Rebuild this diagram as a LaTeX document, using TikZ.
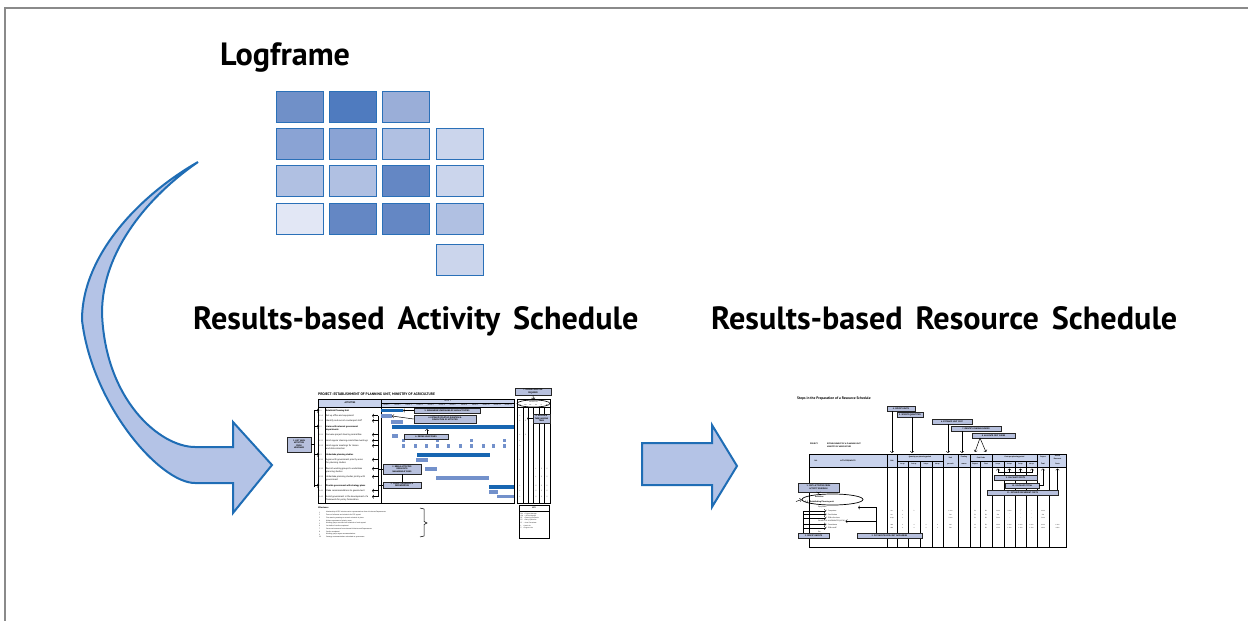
\documentclass[tikz,border=0pt]{standalone}
\usepackage{fontspec}
\setmainfont{PT Sans}
\usetikzlibrary{positioning, calc, shapes.geometric}

% === Colours ===
\definecolor{lfEdge}{HTML}{2A70B8}
\definecolor{lfA}{HTML}{7090C8}
\definecolor{lfB}{HTML}{4F7BBF}
\definecolor{lfC}{HTML}{9AAED8}
\definecolor{lfD}{HTML}{8AA3D4}
\definecolor{lfE}{HTML}{B0C0E2}
\definecolor{lfF}{HTML}{CBD5EC}
\definecolor{lfG}{HTML}{6487C4}
\definecolor{lfH}{HTML}{E2E7F5}
\definecolor{arrowEdge}{HTML}{1F6DB5}
\definecolor{arrowFill}{HTML}{B4C3E6}
\definecolor{hdrFill}{HTML}{C9D3EC}
\definecolor{stepFill}{HTML}{B7C0DD}
\definecolor{barDark}{HTML}{1766B2}
\definecolor{barMid}{HTML}{7391CB}
\definecolor{frameGray}{HTML}{8A8A8A}

\tikzset{
  heading/.style={font=\fontsize{32.2}{36}\selectfont\bfseries, inner sep=0pt, anchor=base west},
  lfcell/.style={draw=lfEdge, line width=1pt, minimum width=47pt, minimum height=31pt, anchor=north west, inner sep=0pt},
  bigarrow/.style={fill=arrowFill, draw=arrowEdge, line width=2pt, line join=miter},
  wee/.style={font=\fontsize{2.3}{2.8}\selectfont, inner sep=0pt},
  weebold/.style={inner sep=0pt, font=\fontsize{3.6}{4}\selectfont\bfseries},
  stepbox/.style={draw=black!85, fill=stepFill, line width=0.8pt, inner sep=0pt, align=center, font=\fontsize{2.1}{2.5}\selectfont\bfseries},
  rule/.style={line width=0.9pt},
  hair/.style={line width=0.35pt},
  link/.style={line width=0.5pt},
}

\begin{document}
\begin{tikzpicture}[x=1pt, y=-1pt]

    \useasboundingbox (0,0) rectangle (1248,621);

    % === Frame ===
    \draw[frameGray, line width=1.3pt] (5,621) -- (5,8) -- (1248,8);

    % === Headings ===
    \node[heading] (logframe) at (220,65) {Logframe};
    \node[heading] (actTitle) at (193,329)
    {Results-based\hspace{0.4em}Activity\hspace{0.4em}Schedule};
    \node[heading] (resTitle) at (711,329)
    {Results-based\hspace{0.4em}Resource\hspace{0.4em}Schedule};

    % === Logframe cells ===
    \foreach \c/\r/\shade in {0/0/lfA, 1/0/lfB, 2/0/lfC,
        0/1/lfD, 1/1/lfD, 2/1/lfE, 3/1/lfF,
        0/2/lfE, 1/2/lfE, 2/2/lfG, 3/2/lfF,
        0/3/lfH, 1/3/lfG, 2/3/lfG, 3/3/lfE, 3/4/lfF}
    \node[lfcell, fill=\shade] (lf-\c-\r) at ({275.5+53.4*\c}, {90.5+37.4*\r+(\r>3)*3.5}) {};

    % === Curved arrow (logframe -> activity schedule) ===
    \draw[bigarrow] (198,162) .. controls (140,195) and (82,255) .. (82,320)
    .. controls (92,405) and (160,483) .. (195,483) -- (233,483) -- (233,513)
    -- (272,465) -- (233,422) -- (233,447) -- (195,447)
    .. controls (160,447) and (105,400) .. (102,313)
    .. controls (102,250) and (150,195) .. (198,162) -- cycle;

    % === Straight arrow (activity -> resource schedule) ===
    \draw[bigarrow] (642,443) -- (712,443) -- (712,425) -- (737,466)
    -- (712,507) -- (712,485) -- (642,485) -- cycle;

    % ======================================================
    % === Activity schedule (thumbnail) ===
    % ======================================================
    \node[weebold, anchor=west] (asTitle) at (318,394)
    {PROJECT: ESTABLISHMENT OF PLANNING UNIT, MINISTRY OF AGRICULTURE};
    \fill[hdrFill] (318,399) rectangle (514,407);
    \draw[rule] (318,399) rectangle (514,503);
    \draw[rule] (318,407) -- (514,407);
    \draw[rule] (381,399) -- (381,503);
    \draw[hair] (325,407) -- (325,503);
    \draw[hair] (381,403) -- (514,403);
    \node[wee, font=\fontsize{2.3}{2.8}\selectfont\bfseries] (asAct) at (350,403) {ACTIVITIES};
    \node[wee] (asYear) at (447.5,401) {YEAR 1};
    \foreach \m in {1,...,12}
    \node[wee, font=\fontsize{1.7}{2}\selectfont] (asM\m) at ({381+(\m-0.5)*11.08},405) {Month \m};

    % activities
    \foreach \y/\ref/\txt [count=\k] in {
        411/1.1/{\bfseries Establish Planning Unit},
        416/1.1.1/{Set up office and equipment},
        421/1.1.2/{Identify and recruit counterpart staff},
        427/1.2/{\bfseries Liaise with relevant government\\\bfseries departments},
        435/1.2.1/{Convene project steering committee},
        441/1.2.2/{Hold regular steering committee meetings},
        446/1.2.3/{Hold regular meetings for liaison\\and data collection},
        455/1.3/{\bfseries Undertake planning studies},
        460/1.3.1/{Agree with government priority areas\\for planning studies},
        469/1.3.2/{Recruit working groups to undertake\\planning studies},
        477/1.3.3/{Undertake planning studies jointly with\\government},
        486/1.4/{\bfseries Provide government with strategy plans},
        491/1.4.1/{Make recommendations to government},
        497/1.4.2/{Assist government in the development of a\\framework for policy formulation}}
    {
        \node[wee, font=\fontsize{1.8}{2.2}\selectfont, anchor=north west] (asRef\k) at (319,\y-1.2) {\ref};
        \node[wee, anchor=north west, align=left] (asRow\k) at (326,\y-1.4) {\txt};
    }

    % gantt bars
    \foreach \xa/\ya/\xb/\yb/\shade [count=\k] in {
        381/409/403/412/barDark, 381/414/392/418/barMid, 391/420/403/424/barMid,
        392/425/514/429/barDark, 392/434/398/438/barMid, 417/453/490/457/barDark,
        416/458/428/462/barMid, 425/467/437/471/barMid, 436/476/489/480/barMid,
        489/485/514/489/barDark, 489/490/498/494/barMid, 497/495/514/498/barMid}
    {
        \fill[\shade] (\xa,\ya) rectangle (\xb,\yb);
        \coordinate (asBar\k) at (\xb,{(\ya+\yb)/2});
    }
    \foreach \x in {403,437,471,504}
    \fill[barMid] (\x-1.5,439) rectangle (\x+1.5,442);
    \foreach \x in {403,415,426,437,448,460,471,483,493,504}
    \fill[barMid] (\x-1.5,444) rectangle (\x+1.5,448);

    % expertise panel
    \draw[rule] (517,399) rectangle (550,503);
    \draw[rule] (517,407) -- (550,407);
    \foreach \x in {523,528,533,539,544}
    \draw[rule] (\x,407) -- (\x,503);
    \node[ellipse, draw, line width=0.6pt, minimum width=33pt, minimum height=7pt, inner sep=0pt] (asExp) at (533.5,403.5) {};
    \node[wee, font=\fontsize{1.8}{2}\selectfont] (asExpTxt) at (533.5,402) {EXPERTISE};
    \foreach \x/\lbl in {520/PM, 525.5/OM, 530.5/PE, 536/PS, 541.5/LC, 547/WG}
    \node[wee, font=\fontsize{1.4}{1.6}\selectfont] (asCol\lbl) at (\x,405.2) {\lbl};
    \foreach \x/\y/\mk in {520/416/L, 520/421/L, 525.5/421/S, 520/435/L, 525.5/435/S,
        520/441/L, 520/446/L, 520/460/L, 536/469/L, 541.5/469/S, 547/469/S,
        536/477/L, 541.5/477/S, 547/477/S, 520/486/L, 536/486/S, 541.5/486/S,
        547/486/S, 520/491/L, 536/491/S, 541.5/491/S, 547/491/S, 520/497/L,
        536/497/S, 541.5/497/S, 547/497/S}
    \node[wee, font=\fontsize{1.6}{1.8}\selectfont] at (\x,\y) {\mk};

    % key
    \draw[rule] (519,505) rectangle (549,538);
    \draw[hair] (519,511) -- (549,511);
    \node[wee, font=\fontsize{2}{2.4}\selectfont\bfseries] (asKey) at (534,508) {KEY};
    \node[wee, font=\fontsize{1.6}{2.2}\selectfont, anchor=north west, align=left] (asKeyTxt) at (520.5,513)
    {PM\quad = Project Manager\\OM\quad = Office Manager\\PE\quad = Planning Economist\\
        PS\quad = Policy Specialist\\LC\quad = Local Consultant\\[1.2pt]
        L\quad = Lead role\\S\quad = Support role};

    % milestones
    \node[wee, font=\fontsize{2.2}{2.6}\selectfont\bfseries, anchor=west] (asMiles) at (318,508) {Milestones};
    \foreach \txt [count=\k] in {
        {Membership of PSC includes senior representatives from all relevant Departments},
        {Terms of reference and schedule for PSC agreed},
        {First steering meeting to set work schedule in place},
        {Written agreement of priority areas},
        {Working groups recruited and schedule of work agreed},
        {1st drafts of studies completed},
        {Structured comment from relevant Ministries and Departments},
        {Studies completed},
        {Working groups agree recommendations},
        {Strategy recommendations submitted to government}}
    {
        \node[wee, font=\fontsize{1.7}{2}\selectfont, anchor=west] (asMsNum\k) at (319,{509.8+2.75*\k}) {\k};
        \node[wee, font=\fontsize{1.7}{2}\selectfont, anchor=west] (asMs\k) at (326,{509.8+2.75*\k}) {\txt};
    }
    \draw[link] (420,508) -- (424,509) -- (424,521.5) -- (427,523) -- (424,524.5) -- (424,536) -- (420,537);

    % step boxes
    \node[stepbox, minimum width=24pt, minimum height=15pt] (asStep1) at (299,444.5) {1. LIST MAIN\\ACTIVITIES\\FROM\\LOGFRAME};
    \node[stepbox, minimum width=38pt, minimum height=10pt] (asStep2) at (402,469) {2. BREAK ACTIVITIES\\DOWN INTO\\MANAGEABLE TASKS};
    \node[stepbox, minimum width=38pt, minimum height=6pt] (asStep3) at (402,485) {3. CLARIFY SEQUENCE \&\\DEPENDENCIES};
    \node[stepbox, minimum width=62pt, minimum height=8pt] (asStep4) at (445,419) {4. ESTIMATE START-UP, DURATION \&\\COMPLETION OF ACTIVITIES};
    \node[stepbox, minimum width=66pt, minimum height=5pt] (asStep5) at (447,410.5) {5. SUMMARISE SCHEDULING OF MAIN ACTIVITIES};
    \node[stepbox, minimum width=44pt, minimum height=5pt] (asStep6) at (426,436.5) {6. DEFINE MILESTONES};
    \node[stepbox, minimum width=36pt, minimum height=7pt] (asStep7) at (533,391.5) {7. DEFINE EXPERTISE\\REQUIRED};
    \node[stepbox, minimum width=17pt, minimum height=9pt] (asStep8) at (541.5,418.5) {8. ALLOCATE\\TASKS AMONG\\TEAM};

    % connectors
    \coordinate (asBrTop) at (314,411);
    \coordinate (asBrBot) at (314,487);
    \draw[link] (asBrTop) -- (asBrBot);
    \draw[link] (asStep1.east) -- (asStep1.east -| asBrTop);
    \foreach \k in {1,4,8,12}
    \draw[link, ->] (asBrTop |- asRef\k.west) -- (asRef\k.west);
    \coordinate (asSubTop) at (378,416);
    \coordinate (asSubBot) at (378,497);
    \draw[link] (asSubTop) -- (asSubBot);
    \foreach \k in {2,3,5,6,7,9,10,11,13,14}
    \draw[link, ->] (asSubTop |- asRef\k.west) -- ++(-6,0);
    \draw[link] (asStep2.west) -- (asStep2.west -| asSubTop);
    \draw[link] (asStep3.west) -- (asStep3.west -| asSubTop);
    \draw[link] (asStep2) -- (asStep3);
    \draw[link, ->] (asStep4.west) -- (asBar2);
    \draw[link, ->] (asStep5.west) -- (asBar1);
    \coordinate (asMile) at (427,429);
    \draw[link, ->] (asStep6.north -| asMile) -- (asMile);
    \draw[link, ->] (asStep7.south) -- (asExp.north);
    \coordinate (asAlloc) at (527,418.5);
    \draw[link, ->] (asStep8.west) -- (asAlloc);

    % ======================================================
    % === Resource schedule (thumbnail) ===
    % ======================================================
    \node[weebold, anchor=west] (rsTitle) at (797,399) {Steps in the Preparation of a Resource Schedule};
    \node[wee, font=\fontsize{2}{2.4}\selectfont\bfseries, anchor=west] (rsProj) at (810,444) {PROJECT:};
    \node[wee, font=\fontsize{2}{3.4}\selectfont\bfseries, anchor=north west, align=left] (rsProjTxt) at (827,442.5)
    {ESTABLISHMENT OF A PLANNING UNIT\\MINISTRY OF AGRICULTURE};

    \fill[hdrFill] (809,454) rectangle (1066,467);
    \draw[rule] (809,454) rectangle (1066,547);
    \draw[rule] (809,467) -- (1066,467);
    \foreach \x in {887,897,943,958,970,992,1037,1049}
    \draw[rule] (\x,454) -- (\x,547);
    \foreach \x in {908,920,932,980,1004,1015,1026}
    \draw[rule] (\x,461) -- (\x,547);
    \draw[hair] (897,461) -- (943,461);
    \draw[hair] (970,461) -- (992,461);
    \draw[hair] (992,461) -- (1037,461);

    % header labels
    \foreach \x/\y/\txt [count=\k] in {816/460.5/Ref., 848/460.5/ACTIVITIES\slash INPUTS, 892/460.5/Unit,
        920/457.5/Quantity per planning period, 950.5/457.5/Unit, 950.5/464/per unit,
        964/457.5/Funding, 964/464/source, 981/457.5/Cost Codes, 975/464/Project, 986/464/Cost,
        1014.5/457.5/Costs per planning period, 1043/457.5/Project, 1043/464/Total,
        1057.5/456/Annual, 1057.5/458.7/Recurrent, 1057.5/464/Costs}
    \node[wee, font=\fontsize{1.8}{2}\selectfont\bfseries] (rsHd\k) at (\x,\y) {\txt};
    \foreach \x/\q in {902.5/1st, 914/2nd, 926/3rd, 937.5/4th, 998/1st, 1009.5/2nd, 1020.5/3rd, 1031.5/4th}
    \node[wee, font=\fontsize{1.6}{2}\selectfont\bfseries] at (\x,464) {\q\ qtr};

    % body rows
    \node[ellipse, draw, line width=0.7pt, minimum width=61pt, minimum height=11pt, inner sep=0pt] (rsActs) at (832.5,499.5) {};
    \node[wee, font=\fontsize{2.1}{2.5}\selectfont\bfseries, anchor=west] (rsActTxt) at (815,496.5) {Activities};
    \node[wee, font=\fontsize{2.1}{2.5}\selectfont\bfseries, anchor=west] (rsActNum) at (805,501.5) {1.1\quad Establishing Planning unit};
    \node[wee, font=\fontsize{1.8}{2.2}\selectfont, anchor=west] (rsEquip) at (818,507.5) {Equipment};
    \node[wee, font=\fontsize{1.8}{2.2}\selectfont, anchor=west] (rsSal) at (818,521.3) {SALARIES \& ALLOWANCES (LOCAL)};
    \node[wee, font=\fontsize{1.8}{2.2}\selectfont, anchor=west] (rsEtc) at (818,532) {Etc.};
    \foreach \y/\item/\u/\qa/\qb/\qc/\qd/\cu/\ca/\cb/\ka/\kb/\kc/\kd/\tot/\rec [count=\k] in {
        511/1. Computers/No./2/2/{}/{}/1 000/5.1/EU/2 000/2 000/--/--/4 000/{},
        514.5/2. Fax Modem/No./1/{}/{}/{}/500/5.1/EU/500/--/--/--/500/{},
        518/3. Office furniture/Lump/1/{}/{}/{}/3 000/5.1/EU/3 000/--/--/--/3 000/{},
        524.5/1. Consultants/Mth/4/4/4/4/400/1.1/EU/1 600/1 600/1 600/1 600/6 400/6 400,
        528/2. Office staff/Mth/4/4/4/4/300/1.2/EU/1 200/1 200/1 200/1 200/4 800/4 800}
    {
        \node[wee, font=\fontsize{1.8}{2.2}\selectfont, anchor=west] (rsItem\k) at (826,\y) {\item};
        \foreach \x/\v in {892/\u, 902.5/\qa, 914/\qb, 926/\qc, 937.5/\qd, 950.5/\cu, 975/\ca, 986/\cb,
            998/\ka, 1009.5/\kb, 1020.5/\kc, 1031.5/\kd, 1043/\tot, 1057.5/\rec}
        \node[wee, font=\fontsize{1.5}{1.8}\selectfont] at (\x,\y) {\v};
    }

    % step boxes
    \node[stepbox, minimum width=28pt, minimum height=5pt] (rsStep4) at (901,408.5) {4. SPECIFY UNITS};
    \node[stepbox, minimum width=26pt, minimum height=5pt] (rsStep5) at (910,414.5) {5. SPECIFY QUANTITIES};
    \node[stepbox, minimum width=40pt, minimum height=5pt] (rsStep6) at (952,421.5) {6. ESTIMATE UNIT COST};
    \node[stepbox, minimum width=50pt, minimum height=5pt] (rsStep7) at (976,428.5) {7. IDENTIFY FUNDING SOURCE};
    \node[stepbox, minimum width=43pt, minimum height=5pt] (rsStep8) at (993.5,435.5) {8. ALLOCATE COST CODES};
    \node[stepbox, minimum width=41pt, minimum height=9pt] (rsStep1) at (818.5,487.5) {1. COPY ACTIVITIES FROM\\ACTIVITY SCHEDULE};
    \node[stepbox, minimum width=31pt, minimum height=5pt] (rsStep2) at (813.5,535.5) {2. SPECIFY INPUTS};
    \node[stepbox, minimum width=65pt, minimum height=5pt] (rsStep3) at (889.5,535.5) {3. PUT INPUTS INTO COST CATEGORIES};
    \node[stepbox, minimum width=43pt, minimum height=5pt] (rsStep9) at (1015.5,477.5) {9. CALCULATE COSTS};
    \node[stepbox, minimum width=34pt, minimum height=5pt] (rsStep10) at (1022,485.5) {10. CALCULATE TOTAL};
    \node[stepbox, minimum width=71pt, minimum height=4.5pt] (rsStep11) at (1022.5,493) {11. ESTIMATE RECURRENT COSTS};

    % connectors
    \coordinate (rsUnitTop) at (892,453);
    \coordinate (rsQtyTop) at (912,453);
    \coordinate (rsCostTop) at (948,453);
    \coordinate (rsFundTop) at (962,453);
    \draw[link, ->] (rsStep4.south -| rsUnitTop) -- (rsUnitTop);
    \draw[link, ->] (rsStep5.south -| rsQtyTop) -- (rsQtyTop);
    \draw[link, ->] (rsStep6.south -| rsCostTop) -- (rsCostTop);
    \draw[link, ->] (rsStep7.south -| rsFundTop) -- (rsFundTop);
    \coordinate (rsApex) at (980,438);
    \coordinate (rsCodeA) at (975,452);
    \coordinate (rsCodeB) at (986,452);
    \draw[link, ->] (rsApex) -- (rsCodeA);
    \draw[link, ->] (rsApex) -- (rsCodeB);
    \coordinate (rsSumL) at (998,472.5);
    \coordinate (rsSumR) at (1032,472.5);
    \draw[link] (rsSumL) -- (rsSumR);
    \draw[link] (rsStep9.north) -- (rsStep9.north |- rsSumL);
    \foreach \x in {998,1009.5,1020.5,1032}
    \draw[link, ->] (\x,472.5) -- (\x,468.5);
    \coordinate (rsTotTop) at (1043,468.5);
    \coordinate (rsRecTop) at (1057.5,468.5);
    \draw[link, ->] (rsStep10.east) -| (rsTotTop);
    \draw[link, ->] (rsStep11.north -| rsRecTop) -- (rsRecTop);
    \draw[link, ->] (rsStep1.south) -- (rsStep1.south |- rsActs.north);
    \coordinate (rsIn) at (796,501.5);
    \draw[link, ->] (rsIn) -- (rsActs.west);
    \coordinate (rsInBr) at (803,511);
    \draw[link] (rsStep2.north -| rsInBr) -- (rsInBr);
    \foreach \k in {1,...,5}
    \draw[link, ->] (rsInBr |- rsItem\k.west) -- (rsItem\k.west);
    \coordinate (rsCat) at (876,507.5);
    \coordinate (rsEqTip) at (858,507.5);
    \draw[link, ->] (rsStep3.north -| rsCat) -- (rsCat) -- (rsEqTip);
    \draw[link, ->] (rsCat |- rsSal.east) -- (rsSal.east);

\end{tikzpicture}
\end{document}
